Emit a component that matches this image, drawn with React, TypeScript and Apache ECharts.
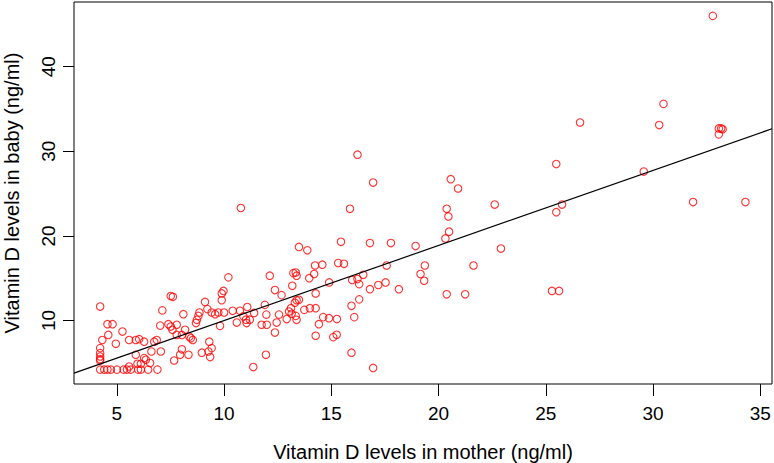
import React, { useEffect, useRef } from "react";
import * as echarts from "echarts";

// Vitamin D levels in mother (x) and in baby (y), ng/ml
const mother = [
  4.22, 4.56, 4.8, 7.12, 7.51, 7.4, 7.51, 7.59, 7.02, 5.26,
  4.6, 4.95, 4.32, 5.57, 5.88, 6.04, 6.27, 6.74, 6.86, 6.61,
  7.05, 5.88, 4.22, 4.22, 4.22, 4.22, 4.22, 7.67, 6.27, 6.35,
  5.96, 6.12, 5.57, 6.55,
  4.22, 4.41, 4.56, 4.72, 5.0, 5.31, 5.47, 5.65, 5.99, 6.12, 6.46, 6.89,
  10.2, 9.89, 9.97, 9.89, 7.61, 9.11, 8.1, 8.85, 8.8, 8.73,
  8.69, 9.22, 9.42, 9.58, 9.73, 10.0, 10.4, 10.74, 11.08, 11.4,
  10.9, 11.02, 11.05, 10.59, 11.2, 9.81, 11.97, 11.99, 11.75, 7.79,
  7.79, 8.18, 8.03, 8.45, 8.54, 8.38, 9.31, 9.42, 9.27, 8.03,
  7.95, 8.34, 8.96, 9.35, 11.95, 11.36,
  15.45, 13.49, 13.88, 14.24, 14.58, 14.2, 13.97, 15.32, 15.59, 13.23,
  13.34, 13.38, 12.13, 13.18, 14.9, 15.97, 16.22, 16.3, 16.49, 12.37,
  12.68, 14.27, 11.9, 13.38, 13.49, 13.3, 13.12, 13.03, 13.15, 13.34,
  13.38, 12.92, 12.56, 12.45, 13.74, 14.0, 14.27, 14.62, 14.89, 15.26,
  14.42, 15.94, 16.3, 16.07, 12.37, 14.27, 15.09, 15.25, 15.94,
  16.22, 16.95, 16.8, 17.78, 18.93, 17.58, 17.19, 17.53, 16.8, 18.15,
  16.95, 10.78, 15.87,
  32.79, 30.49, 30.29, 26.6, 33.07, 33.18, 33.25, 33.07, 25.49, 29.57,
  20.57, 20.91, 31.87, 34.31, 22.62, 25.76, 25.49, 20.38, 20.46, 20.49,
  20.32, 22.91, 19.36, 21.63, 19.16, 19.33, 20.38, 21.24, 25.29, 25.62,
];

const baby = [
  11.65, 9.57, 9.57, 11.2, 12.9, 9.57, 9.29, 8.9, 9.4, 8.7,
  8.3, 7.25, 7.7, 7.7, 7.7, 7.8, 7.5, 7.5, 7.7, 6.34,
  6.34, 5.95, 6.74, 6.15, 5.75, 5.44, 5.28, 5.28, 5.56, 5.36,
  4.89, 4.89, 4.57, 4.97,
  4.2, 4.2, 4.2, 4.2, 4.2, 4.2, 4.2, 4.2, 4.2, 4.2, 4.2, 4.2,
  15.1, 13.2, 13.5, 12.4, 12.8, 12.2, 10.75, 10.95, 10.55, 10.08,
  9.7, 11.35, 10.95, 10.75, 10.95, 10.95, 11.15, 11.15, 11.6, 10.9,
  10.5, 10.1, 9.7, 9.76, 10.1, 9.37, 10.7, 9.5, 9.5, 9.5,
  8.3, 8.9, 8.3, 7.9, 7.7, 8.1, 7.5, 6.74, 6.34, 6.6,
  5.95, 5.95, 6.2, 5.68, 5.95, 4.5,
  19.3, 18.7, 18.3, 16.5, 16.6, 15.5, 15.0, 16.8, 16.7, 15.6,
  15.67, 15.3, 15.3, 14.1, 14.5, 14.8, 14.9, 14.3, 15.4, 13.6,
  13.0, 13.2, 11.85, 12.4, 12.45, 12.1, 11.46, 11.06, 10.8, 10.55,
  10.08, 10.17, 10.7, 9.76, 11.26, 11.46, 11.46, 10.4, 10.28, 10.17,
  9.57, 11.74, 12.5, 10.4, 8.58, 8.2, 8.04, 8.31, 6.2,
  29.6, 26.3, 19.15, 19.15, 18.8, 16.5, 14.2, 14.5, 13.7, 13.7,
  4.4, 23.3, 23.2,
  46.0, 35.6, 33.1, 33.4, 32.7, 32.7, 32.6, 32.0, 28.5, 27.6,
  26.7, 25.6, 24.0, 24.0, 23.7, 23.7, 22.8, 23.2, 22.3, 20.5,
  19.7, 18.5, 16.5, 16.5, 15.5, 14.7, 13.1, 13.1, 13.5, 13.5,
];

const xTicks = [5, 10, 15, 20, 25, 30, 35];
const yTicks = [10, 20, 30, 40];
const xMin = 3.0;
const xMax = 35.55;
const yMin = 2.5;
const yMax = 47.64;
const fitIntercept = 1.13;
const fitSlope = 0.887;

const FONT = "'Liberation Sans', Arial, Helvetica, sans-serif";

export default function App() {
  const ref = useRef<HTMLDivElement>(null);

  useEffect(() => {
    if (!ref.current) return;
    const chart = echarts.init(ref.current, null, { renderer: "svg" });
    const points = mother.map((m, i) => [m, baby[i]]);
    const fitLine = [
      [xMin, fitIntercept + fitSlope * xMin],
      [xMax, fitIntercept + fitSlope * xMax],
    ];
    chart.setOption({
      animation: false,
      backgroundColor: "#ffffff",
      grid: {
        left: 74,
        right: 2,
        top: 2,
        bottom: 79,
        show: true,
        borderColor: "#000",
        borderWidth: 1,
        backgroundColor: "transparent",
        containLabel: false,
        outerBoundsMode: "none",
      },
      xAxis: {
        type: "value",
        min: xMin,
        max: xMax,
        splitLine: { show: false },
        axisLine: { show: false },
        axisTick: {
          show: true,
          length: 12,
          customValues: xTicks,
          lineStyle: { color: "#000", width: 1 },
        },
        axisLabel: {
          customValues: xTicks,
          color: "#000",
          fontSize: 19,
          fontFamily: FONT,
          margin: 20,
        },
        name: "Vitamin D levels in mother (ng/ml)",
        nameLocation: "middle",
        nameGap: 58,
        nameTextStyle: { color: "#000", fontSize: 20, fontFamily: FONT },
      },
      yAxis: {
        type: "value",
        min: yMin,
        max: yMax,
        splitLine: { show: false },
        axisLine: { show: false },
        axisTick: {
          show: true,
          length: 11,
          customValues: yTicks,
          lineStyle: { color: "#000", width: 1 },
        },
        axisLabel: {
          customValues: yTicks,
          rotate: 90,
          color: "#000",
          fontSize: 19,
          fontFamily: FONT,
          margin: 16,
        },
        name: "Vitamin D levels in baby (ng/ml)",
        nameLocation: "middle",
        nameGap: 52,
        nameTextStyle: { color: "#000", fontSize: 20, fontFamily: FONT },
      },
      series: [
        {
          type: "scatter",
          data: points,
          symbol: "circle",
          symbolSize: 7.5,
          silent: true,
          itemStyle: {
            color: "rgba(0,0,0,0)",
            borderColor: "#ff0000",
            borderWidth: 1.1,
          },
          emphasis: { disabled: true },
        },
        {
          type: "line",
          data: fitLine,
          showSymbol: false,
          symbol: "none",
          silent: true,
          lineStyle: { color: "#000", width: 1.2 },
          z: 3,
        },
      ],
    });
    return () => chart.dispose();
  }, []);

  return (
    <div
      ref={ref}
      style={{ position: "fixed", left: 0, top: 0, width: 774, height: 463 }}
    />
  );
}
